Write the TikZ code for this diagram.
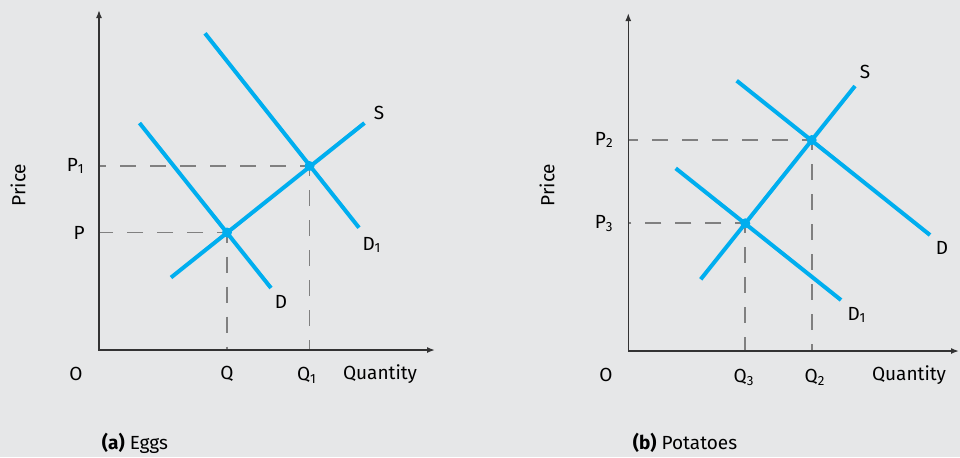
\documentclass[tikz,border=0pt]{standalone}
\usepackage{fontspec}
\setmainfont{Fira Sans}
\usepackage{xcolor}
\usetikzlibrary{arrows.meta, calc}
\definecolor{curveblue}{RGB}{0,174,239}
\definecolor{panelgray}{RGB}{230,231,232}
\definecolor{axisgray}{RGB}{51,51,51}
\definecolor{guidegray}{RGB}{128,128,128}

\begin{document}
\begin{tikzpicture}[x=0.5pt, y=-0.5pt,
    >={Latex[length=4pt,width=3pt]},
    axis/.style={<->, axisgray, line width=0.75pt},
    curve/.style={curveblue, line width=2pt},
    guide/.style={guidegray, line width=0.85pt, dash pattern=on 8pt off 7pt, dash phase=3pt},
    dot/.style={circle, fill=curveblue, inner sep=0pt, minimum size=5pt},
    lbl/.style={font=\fontsize{9.5}{11}\selectfont, text=black, inner sep=0pt},
    every node/.style={lbl}
  ]
  \fill[panelgray] (0,0) rectangle (960,457);
  \useasboundingbox (0,0) rectangle (960,457);

  % (a) eggs
  \coordinate (Oa) at (99,350);
  \coordinate (Ya) at (99,10);
  \coordinate (Xa) at (435,350);
  \coordinate (E0) at (227,232.5);
  \coordinate (E1) at (309.5,166);

  \draw[guide] (E0) -- (E0 -| Oa);
  \draw[guide] (E0) -- (E0 |- Oa);
  \draw[guide] (E1) -- (E1 -| Oa);
  \draw[guide] (E1) -- (E1 |- Oa);
  \draw[axis] (Ya) |- (Xa);

  \coordinate (Da1) at ($(E0)+(-87.5,-109.5)$);
  \coordinate (Da2) at ($(E0)+(44,55.5)$);
  \coordinate (Dpa1) at ($(E1)+(-104.5,-132.7)$);
  \coordinate (Dpa2) at ($(E1)+(49.5,61.7)$);
  \coordinate (Sa1) at ($(E0)+(-56,45)$);
  \coordinate (Sa2) at ($(E1)+(55,-43)$);
  \draw[curve] (Da1) -- (Da2);
  \draw[curve] (Dpa1) -- (Dpa2);
  \draw[curve] (Sa1) -- (Sa2);
  \node[dot] (dotE0) at (E0) {};
  \node[dot] (dotE1) at (E1) {};

  \node[anchor=east] (lblP1) at (85,166) {P\textsubscript{1}};
  \node[anchor=east] (lblP) at (85,232.5) {P};
  \node (lblOa) at (76,374) {O};
  \node (lblQ) at (227,374) {Q};
  \node (lblQ1) at (307,375) {Q\textsubscript{1}};
  \node (lblQa) at (380,374) {Quantity};
  \node (lblSa) at (379,113) {S};
  \node (lblD1a) at (372,245) {D\textsubscript{1}};
  \node (lblDa) at (281,302) {D};
  \node[rotate=90] (lblPra) at (18,185) {Price};
  \node (capA) at (135,443) {\textbf{(a)} Eggs};

  % (b) potatoes
  \coordinate (Ob) at (628.3,351);
  \coordinate (Yb) at (628.3,13);
  \coordinate (Xb) at (959,351);
  \coordinate (E3) at (745.3,223.3);
  \coordinate (E2) at (811.7,140);

  \draw[guide] (E3) -- (E3 -| Ob);
  \draw[guide] (E3) -- (E3 |- Ob);
  \draw[guide] (E2) -- (E2 -| Ob);
  \draw[guide] (E2) -- (E2 |- Ob);
  \draw[axis] (Yb) |- (Xb);

  \coordinate (Db1) at ($(E2)+(-75,-59.3)$);
  \coordinate (Db2) at ($(E2)+(118.3,95)$);
  \coordinate (Dpb1) at ($(E3)+(-69.6,-55)$);
  \coordinate (Dpb2) at ($(E3)+(95.7,76.7)$);
  \coordinate (Sb1) at ($(E3)+(-44.6,56)$);
  \coordinate (Sb2) at ($(E2)+(43.3,-54)$);
  \draw[curve] (Db1) -- (Db2);
  \draw[curve] (Dpb1) -- (Dpb2);
  \draw[curve] (Sb1) -- (Sb2);
  \node[dot] (dotE3) at (E3) {};
  \node[dot] (dotE2) at (E2) {};

  \node[anchor=east] (lblP2) at (614,140) {P\textsubscript{2}};
  \node[anchor=east] (lblP3) at (614,223.3) {P\textsubscript{3}};
  \node (lblOb) at (606,375) {O};
  \node (lblQ3) at (744,377) {Q\textsubscript{3}};
  \node (lblQ2) at (815,377) {Q\textsubscript{2}};
  \node (lblQb) at (909,375) {Quantity};
  \node (lblSb) at (865,72) {S};
  \node (lblDb) at (942,248) {D};
  \node (lblD1b) at (857,315) {D\textsubscript{1}};
  \node[rotate=90] (lblPrb) at (547,185) {Price};
  \node (capB) at (685,443) {\textbf{(b)} Potatoes};
\end{tikzpicture}
\end{document}
